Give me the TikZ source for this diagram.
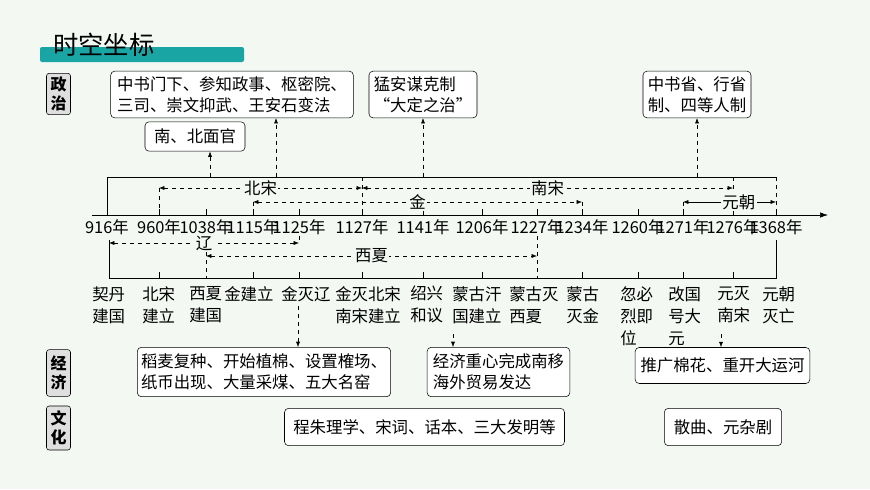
\documentclass[tikz,border=0pt]{standalone}
\usepackage{fontspec}
\setmainfont{Noto Sans CJK SC}
\usetikzlibrary{arrows.meta}
\definecolor{bg}{HTML}{F3F8F3}
\definecolor{teal}{HTML}{1AA5A5}
\begin{document}
\begin{tikzpicture}[x=0.75pt,y=-0.75pt,font=\fontsize{12.3pt}{15.5pt}\selectfont,
 box/.style={draw,rounded corners=3pt,fill=white,inner sep=2pt,align=left},
 cat/.style={draw,rounded corners=2pt,fill=gray!25,inner sep=1.5pt,align=center,minimum width=18pt,font=\fontsize{12pt}{14pt}\selectfont\bfseries},
 da/.style={dashed,-{Latex[length=4pt,width=3pt]}},
 dd/.style={dashed,{Latex[length=4pt,width=3pt]}-{Latex[length=4pt,width=3pt]}},
 yr/.style={inner sep=0pt,anchor=north},
 ev/.style={inner sep=0pt,anchor=north west,align=left,font=\fontsize{12.3pt}{16.5pt}\selectfont},
 lab/.style={fill=bg,inner sep=1pt}]
\fill[bg] (0,0) rectangle (870,489);
\useasboundingbox (0,0) rectangle (870,489);
% title
\fill[teal,rounded corners=1.5pt] (40,47) rectangle (244,62);
\node[anchor=west,inner sep=0pt,font=\fontsize{19pt}{20pt}\selectfont] (title) at (53,45) {时空坐标};
% categories
\node[cat,minimum height=31pt] (zz) at (58.5,94) {政\\治};
\node[cat,minimum height=35pt] (jj) at (58.5,373) {经\\济};
\node[cat,minimum height=33pt] (wh) at (58.5,428) {文\\化};
% top boxes
\node[box,minimum width=182pt,minimum height=35pt] (p1) at (232,94.5) {中书门下、参知政事、枢密院、\\三司、崇文抑武、王安石变法};
\node[box,minimum width=75pt,minimum height=22pt] (p2) at (195,136.5) {南、北面官};
\node[box,minimum width=81pt,minimum height=35pt] (p3) at (423,94.5) {猛安谋克制\\“大定之治”};
\node[box,minimum width=81pt,minimum height=35pt] (p4) at (697,94.5) {中书省、行省\\制、四等人制};
\coordinate (a1) at (210,177); \coordinate (a2) at (276,177);
\coordinate (a3) at (423,177); \coordinate (a4) at (697,177);
\draw[da] (a1) -- (p2.south -| a1);
\draw[da] (a2) -- (p1.south -| a2);
\draw[da] (a3) -- (p3.south);
\draw[da] (a4) -- (p4.south);
% axis
\coordinate (ax0) at (92,215); \coordinate (ax1) at (828,215);
\draw[-{Latex[length=6pt,width=4pt]}] (ax0) -- (ax1);
\foreach \x/\yy/\n in {107/916/t0,159/960/t1,206/1038/t2,253/1115/t3,299/1125/t4,362/1127/t5,423/1141/t6,482/1206/t7,537/1227/t8,582/1234/t9,638/1260/t10,683/1271/t11,733/1276/t12,776/1368/t13}{
  \draw (\x,215) -- (\x,209);
  \node[yr] (\n) at (\x,219) {{\yy}年};
}
% top bracket
\draw (107,215) -- (107,177) -- (776,177);
\draw[dashed] (776,177) -- (776,215);
\draw[dashed] (733,177) -- (733,215);
\draw[dashed] (159,188) -- (159,215);
\draw[dashed] (362,177) -- (362,215);
\draw[dashed] (253,202) -- (253,215);
\draw[dashed] (582,202) -- (582,215);
\draw[dashed] (683,202) -- (683,215);
\draw[dd] (159,188) -- node[lab] (bs) {北宋} (362,188);
\draw[dd] (362,188) -- node[lab] (ns) {南宋} (733,188);
\draw[dd] (253,202) -- node[lab,pos=0.5] (jin) {金} (582,202);
\draw[{Latex[length=4pt,width=3pt]}-{Latex[length=4pt,width=3pt]}] (683,202) -- node[lab,pos=0.6] (yc) {元朝} (776,202);
% bottom bracket
\draw (109,240) -- (109,278) -- (776,278) -- (776,240);
\draw[dashed] (206,236) -- (206,278);
\draw[dashed] (537,236) -- (537,278);
\draw[dashed] (299,236) -- (299,243);
\draw[dd] (109,243) -- node[lab,pos=0.5] (liao) {辽} (299,243);
\draw[dd] (206,256) -- node[lab,pos=0.5] (xx) {西夏} (537,256);
\foreach \x in {159,253,299,362,423,482,582,638,683,733}{\draw (\x,278) -- (\x,272);}
% events
\node[ev] (e0) at (92,286) {契丹\\建国};
\node[ev] (e1) at (142,286) {北宋\\建立};
\node[ev] (e2) at (189,286) {西夏\\建国};
\node[ev] (e3) at (224,286) {金建立};
\node[ev] (e4) at (281,286) {金灭辽};
\node[ev] (e5) at (335,286) {金灭北宋\\南宋建立};
\node[ev] (e6) at (410,286) {绍兴\\和议};
\node[ev] (e7) at (452,286) {蒙古汗\\国建立};
\node[ev] (e8) at (509,286) {蒙古灭\\西夏};
\node[ev] (e9) at (566,286) {蒙古\\灭金};
\node[ev] (e10) at (620,286) {忽必\\烈即\\位};
\node[ev] (e11) at (668,286) {改国\\号大\\元};
\node[ev] (e12) at (717,286) {元灭\\南宋};
\node[ev] (e13) at (762,286) {元朝\\灭亡};
% economy
\node[box,minimum width=190pt,minimum height=37pt] (c1) at (264,372) {稻麦复种、开始植棉、设置榷场、\\纸币出现、大量采煤、五大名窑};
\node[box,minimum width=107pt,minimum height=37pt] (c2) at (498.5,372) {经济重心完成南移\\海外贸易发达};
\node[box,minimum width=131pt,minimum height=27pt] (c3) at (722.5,365.5) {推广棉花、重开大运河};
\coordinate (b1) at (298,306); \coordinate (b2) at (453,334); \coordinate (b3) at (721,334);
\draw[da] (b1) -- (c1.north -| b1);
\draw[da] (b2) -- (c2.north -| b2);
\draw[da] (b3) -- (c3.north -| b3);
% culture
\node[box,minimum width=210pt,minimum height=28pt] (w1) at (424.5,427) {程朱理学、宋词、话本、三大发明等};
\node[box,minimum width=88pt,minimum height=28pt] (w2) at (723,427) {散曲、元杂剧};
\end{tikzpicture}
\end{document}
